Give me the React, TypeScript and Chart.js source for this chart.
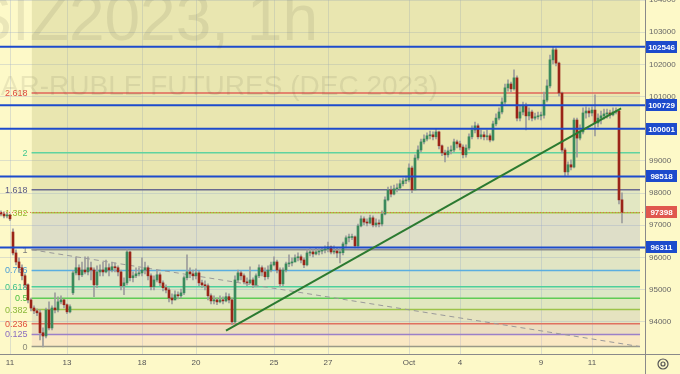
import React, { useEffect, useRef } from "react";
import { Chart, registerables } from "chart.js";

Chart.register(...registerables);

// ---- Candles (hourly, index = candle slot) ----
const opens = [
  97400,97350,97290,97320,96790,96140,95860,95680,95430,95150,
  94680,94430,94340,94280,93660,93560,94370,93810,94430,94370,
  94620,94680,94530,94310,94900,95520,95680,95460,95610,95550,
  95680,95610,95150,95550,95610,95550,95680,95610,95710,95680,
  95550,95120,95210,96170,95370,95430,95490,95520,95610,95680,
  95430,95090,95300,95460,95210,95060,94990,94740,94680,94840,
  94810,94900,95370,95550,95490,95430,95520,95210,95150,95120,
  94810,94650,94680,94620,94680,94650,94780,94680,94000,95300,
  95520,95430,95240,95210,95300,95150,95430,95680,95550,95400,
  95610,95770,95860,95610,95180,95610,95800,95830,95860,95990,
  96020,95920,95770,96140,96170,96110,96170,96200,96230,96260,
  96330,96170,96200,96140,96150,96420,96610,96620,96640,96360,
  96980,97200,97100,97070,97230,97010,97070,97040,97350,97790,
  98100,97970,98130,98160,98290,98380,98410,98780,98100,99090,
  99340,99590,99680,99780,99810,99750,99900,99470,99250,99190,
  99310,99340,99590,99530,99430,99190,99400,99750,99960,100090,
  99750,99810,99750,99780,99650,100150,100330,100520,100830,101270,
  101390,101240,101580,100330,100520,100710,100400,100520,100330,100370,
  100400,100420,100890,101330,102140,102450,102040,101110,99340,98660,
  98880,98810,100270,99710,99900,100490,100550,100490,100580,100180,
  100330,100400,100460,100490,100430,100520,100550,97790,
];
const highs = [
  97450,97420,97380,97350,96890,96240,95990,95770,95490,95180,
  94740,94500,94400,94370,93810,94430,94620,94500,94900,94780,
  94810,94710,94560,94530,95580,96020,95770,95860,96020,96020,
  95860,95680,95740,95770,95860,95920,95800,95860,95830,95740,
  95610,95370,96240,96200,95550,95680,95680,95990,95860,95740,
  95490,95430,95610,95520,95270,95150,95060,94870,94960,94930,
  95020,95430,96080,95680,95610,95650,95580,95300,95270,95180,
  94870,94810,94740,94810,94780,94900,94870,94740,95430,95610,
  95580,95490,95370,95710,95370,95490,95770,95740,95680,95740,
  95860,96020,95920,95680,95680,95860,96080,95990,96080,96140,
  96080,95990,96240,96270,96240,96300,96270,96300,96360,96480,
  96360,96360,96300,96270,96480,96670,96730,96730,96670,97040,
  97290,97260,97200,97320,97290,97200,97170,97450,97880,98190,
  98220,98250,98290,98410,98470,98530,98910,98840,99190,99470,
  99680,99810,99870,99930,99900,99990,99930,99500,99340,99430,
  99470,99680,99650,99620,99500,99500,99840,100090,100210,100150,
  99960,99900,99960,99840,100240,100460,100650,100960,101390,101520,
  101450,101830,101640,100710,100830,100800,100650,100580,100490,100520,
  100520,101140,101520,102290,102550,102510,102070,101140,99400,98970,
  99030,100330,100330,100120,100650,100680,100650,100680,101050,100460,
  100550,100610,100610,100580,100650,100650,100600,98010,
];
const lows = [
  97290,97230,97230,97140,96080,95770,95550,95300,95060,94590,
  94340,94250,94190,93440,93220,93500,93750,93750,94280,94310,
  94560,94430,94250,94280,94840,95460,95300,95400,95490,95460,
  95300,94780,95060,95430,95430,95520,95430,95550,95550,95430,
  94990,94840,95150,95270,95240,95370,95430,95430,95490,95300,
  94990,94990,95240,95120,94960,94900,94620,94560,94680,94710,
  94740,94840,95300,95370,95300,95330,95120,95060,94990,94680,
  94560,94560,94530,94590,94560,94620,94590,93910,93940,95240,
  95300,95180,95120,95180,95060,95090,95370,95430,95300,95330,
  95550,95740,95520,95090,95120,95550,95710,95740,95860,95890,
  95830,95680,95740,96050,96020,96080,96080,96110,96140,96170,
  96110,96110,95990,95830,96080,96300,96480,96550,96300,96300,
  96950,97010,96980,97040,96950,96950,96950,96980,97320,97760,
  97880,97940,98040,98130,98220,98290,98350,98010,98100,99030,
  99280,99530,99620,99680,99650,99680,99370,99160,98970,99120,
  99220,99280,99400,99340,99090,99120,99340,99680,99870,99680,
  99680,99650,99650,99590,99620,100090,100270,100460,100770,101170,
  101140,101200,100240,100240,100430,99960,100270,100240,100270,100300,
  100270,100330,100830,101270,102010,101950,101020,99250,98530,98560,
  98720,98780,99120,99650,99840,100330,100370,100400,99780,100060,
  100150,100300,100330,100330,100400,100460,97660,97070,
];
const closes = [
  97350,97290,97320,97200,96140,95860,95680,95430,95150,94680,
  94430,94340,94280,93660,93560,94370,93810,94430,94370,94620,
  94680,94530,94310,94470,95520,95680,95460,95610,95550,95680,
  95610,95150,95550,95610,95550,95680,95610,95710,95680,95550,
  95120,95210,96170,95370,95430,95490,95520,95610,95680,95430,
  95090,95300,95460,95210,95060,94990,94740,94680,94840,94810,
  94900,95370,95550,95490,95430,95520,95210,95150,95120,94810,
  94650,94680,94620,94680,94650,94780,94680,94000,95300,95520,
  95430,95240,95210,95300,95150,95430,95680,95550,95400,95610,
  95770,95860,95610,95180,95610,95800,95830,95860,95990,96020,
  95920,95770,96140,96170,96110,96170,96200,96230,96260,96330,
  96170,96200,96140,96150,96420,96610,96620,96640,96360,96980,
  97200,97100,97070,97230,97010,97070,97040,97350,97790,98100,
  97970,98130,98160,98290,98380,98410,98780,98100,99090,99340,
  99590,99680,99780,99810,99750,99900,99470,99250,99190,99310,
  99340,99590,99530,99430,99190,99400,99750,99960,100090,99750,
  99810,99750,99780,99650,100150,100330,100520,100830,101270,101390,
  101240,101580,100330,100520,100710,100400,100520,100330,100370,100400,
  100420,100890,101330,102140,102450,102040,101110,99340,98660,98880,
  98810,100270,99710,99900,100490,100550,100490,100580,100180,100330,
  100400,100460,100490,100430,100520,100550,97790,97398,
];

// ---- Axis ticks (candle slot of each day start) ----
const dayTicks = [3, 22, 47, 65, 91, 109, 136, 153, 180, 197];
const dayLabels = ["11", "13", "18", "20", "25", "27", "Oct", "4", "9", "11"];

// ---- Drawings ----
const levelPrices = [102546, 100729, 100001, 98518, 96311];
const lastPrice = 97398;
const fibLevels = [0, 0.125, 0.236, 0.382, 0.5, 0.618, 0.786, 1, 1.382, 1.618, 2, 2.618, 3.618];
const fibLowPrice = 93230;
const fibHighPrice = 96240;
const fibSpan = [10.2, 213];
const trendX = [75, 206.7];
const trendY = [93730, 100630];

// ---- Styles ----
const FONT = '"Liberation Sans", Arial, sans-serif';
const BG = "#fdf9c8";
const GRID = "rgba(160,176,200,0.35)";
const BLUE = "#1d4bcc";
const UP = "#3b8a5c";
const DOWN = "#9a2418";
const WICK = "#9c9c9c";
const X_MIN = -1 / 3;
const X_MAX = 214 + 2 / 3;
const fibLineColors = [
  "#9a9a88", "#9b80c8", "#e0705e", "#9cc34a", "#5fcc55", "#4ccf9c", "#5aaee0",
  "#8c8c8c", "#a5c844", "#6a6a8e", "#5fd3a0", "#e0655a", "#9c27b0",
];
const fibLabelColors = [
  "#8a8a78", "#8a6cc0", "#e0503e", "#8cb83a", "#4cc040", "#3cbf8c", "#4a9ed6",
  "#7c7c7c", "#98be30", "#5a5a86", "#40c890", "#e04a40", "#9c27b0",
];
const fibFillColors = [
  "rgba(0,0,0,0)",
  "rgba(245,185,184,0.25)",
  "rgba(189,145,168,0.25)",
  "rgba(161,165,168,0.25)",
  "rgba(145,181,168,0.25)",
  "rgba(125,181,192,0.25)",
  "rgba(129,173,200,0.25)",
  "rgba(145,173,184,0.25)",
  "rgba(133,145,200,0.25)",
  "rgba(149,181,176,0.25)",
  "rgba(177,177,104,0.25)",
  "rgba(177,177,104,0.25)",
  "rgba(177,177,104,0.25)",
];

const fibPrice = (lv: number) => fibLowPrice + lv * (fibHighPrice - fibLowPrice);

const overlay = {
  id: "overlay",
  beforeDraw(chart: any) {
    const { ctx, width, height } = chart;
    ctx.save();
    ctx.fillStyle = BG;
    ctx.fillRect(0, 0, width, height);
    ctx.restore();
  },
  beforeDatasetsDraw(chart: any) {
    const { ctx, scales, chartArea } = chart;
    const lx = scales.x.getPixelForValue(fibSpan[0]) - 4;
    ctx.save();
    ctx.font = `9px ${FONT}`;
    ctx.textAlign = "right";
    ctx.textBaseline = "middle";
    fibLevels.forEach((lv, k) => {
      const py = scales.y.getPixelForValue(fibPrice(lv));
      if (py < 4 || py > chartArea.bottom) return;
      ctx.fillStyle = fibLabelColors[k];
      ctx.fillText(String(lv), lx, py + 0.5);
    });
    ctx.restore();
  },
  afterDatasetsDraw(chart: any) {
    const { ctx, chartArea } = chart;
    ctx.save();
    ctx.beginPath();
    ctx.rect(chartArea.left, chartArea.top, chartArea.right - chartArea.left, chartArea.bottom - chartArea.top);
    ctx.clip();
    ctx.fillStyle = "rgba(70,70,50,0.10)";
    ctx.textAlign = "right";
    ctx.textBaseline = "alphabetic";
    ctx.font = `64px ${FONT}`;
    ctx.fillText("SIZ2023, 1h", 318, 40);
    ctx.font = `28px ${FONT}`;
    ctx.fillText("US DOLLAR-RUBLE FUTURES (DEC 2023)", 438, 95);
    ctx.restore();
  },
  afterDraw(chart: any) {
    const { ctx, chartArea, scales, width, height } = chart;
    ctx.save();
    ctx.strokeStyle = "#8a8a8a";
    ctx.lineWidth = 1;
    ctx.beginPath();
    ctx.moveTo(chartArea.right + 0.5, 0);
    ctx.lineTo(chartArea.right + 0.5, height);
    ctx.moveTo(0, chartArea.bottom + 0.5);
    ctx.lineTo(width, chartArea.bottom + 0.5);
    ctx.stroke();

    const box = (price: number, color: string) => {
      const py = scales.y.getPixelForValue(price);
      ctx.fillStyle = color;
      ctx.fillRect(chartArea.right + 1, Math.round(py) - 6, 31, 12);
      ctx.fillStyle = "#ffffff";
      ctx.font = `bold 8px ${FONT}`;
      ctx.textAlign = "center";
      ctx.textBaseline = "middle";
      ctx.fillText(String(price), chartArea.right + 16.5, Math.round(py) + 0.5);
    };
    levelPrices.forEach((p) => box(p, BLUE));
    box(lastPrice, "#e0584e");

    // settings icon
    const cx = chartArea.right + 18;
    const cy = chartArea.bottom + 10;
    ctx.strokeStyle = "#555";
    ctx.lineWidth = 1.2;
    ctx.beginPath();
    ctx.arc(cx, cy, 5, 0, Math.PI * 2);
    ctx.stroke();
    ctx.beginPath();
    ctx.arc(cx, cy, 2, 0, Math.PI * 2);
    ctx.stroke();
    ctx.restore();
  },
};

export default function App() {
  const ref = useRef<HTMLCanvasElement | null>(null);
  useEffect(() => {
    document.body.style.margin = "0";
    const canvas = ref.current;
    if (!canvas) return;

    const fibSets = fibLevels.map((lv, k) => ({
      type: "line" as const,
      data: [
        { x: fibSpan[0], y: fibPrice(lv) },
        { x: fibSpan[1], y: fibPrice(lv) },
      ],
      borderColor: fibLineColors[k],
      borderWidth: 1.5,
      backgroundColor: fibFillColors[k],
      fill: k === 0 ? false : "-1",
      pointRadius: 0,
      order: 10,
    }));

    const blueSets = levelPrices.map((p) => ({
      type: "line" as const,
      data: [
        { x: X_MIN, y: p },
        { x: X_MAX, y: p },
      ],
      borderColor: BLUE,
      borderWidth: 2,
      pointRadius: 0,
      fill: false,
      order: 1,
    }));

    const chart = new Chart(canvas, {
      type: "bar",
      data: {
        datasets: [
          ...fibSets,
          {
            type: "line",
            data: [
              { x: fibSpan[0], y: fibHighPrice },
              { x: fibSpan[1], y: fibLowPrice },
            ],
            borderColor: "#9a9a9a",
            borderWidth: 1,
            borderDash: [5, 4],
            pointRadius: 0,
            fill: false,
            order: 6,
          },
          ...blueSets,
          {
            type: "line",
            data: [
              { x: X_MIN, y: lastPrice },
              { x: X_MAX, y: lastPrice },
            ],
            borderColor: "rgba(226,90,80,0.85)",
            borderWidth: 1,
            borderDash: [1, 2],
            pointRadius: 0,
            fill: false,
            order: 2,
          },
          {
            type: "bar",
            data: opens.map((o, i) => ({ x: i, y: [o, closes[i]] })),
            backgroundColor: (c: any) =>
              closes[c.dataIndex] >= opens[c.dataIndex] ? UP : DOWN,
            barThickness: 2,
            maxBarThickness: 2,
            minBarLength: 1,
            grouped: false,
            borderWidth: 0,
            order: 3,
          },
          {
            type: "bar",
            data: highs.map((h, i) => ({ x: i, y: [lows[i], h] })),
            backgroundColor: WICK,
            barThickness: 1,
            maxBarThickness: 1,
            grouped: false,
            borderWidth: 0,
            order: 4,
          },
          {
            type: "line",
            data: trendX.map((x, i) => ({ x, y: trendY[i] })),
            borderColor: "#2b7a30",
            borderWidth: 2,
            pointRadius: 0,
            fill: false,
            order: 0,
          },
        ] as any,
      },
      options: {
        responsive: false,
        animation: false,
        devicePixelRatio: 1,
        events: [],
        layout: { padding: 0 },
        plugins: {
          legend: { display: false },
          tooltip: { enabled: false },
        },
        scales: {
          x: {
            type: "linear",
            min: X_MIN,
            max: X_MAX,
            offset: false,
            afterBuildTicks: (s: any) => {
              s.ticks = dayTicks.map((v) => ({ value: v }));
            },
            afterFit: (s: any) => {
              s.height = 20;
              s.paddingLeft = 0;
              s.paddingRight = 0;
            },
            grid: { color: GRID, drawTicks: false, offset: false },
            border: { display: false },
            ticks: {
              callback: (_v: any, i: number) => dayLabels[i] ?? "",
              autoSkip: false,
              maxRotation: 0,
              padding: 4,
              color: "#555",
              font: { size: 8, family: FONT },
            },
          },
          y: {
            type: "linear",
            position: "right",
            min: 93000,
            max: 104000,
            afterFit: (s: any) => {
              s.width = 35;
              s.paddingTop = 0;
              s.paddingBottom = 0;
            },
            grid: { color: GRID, drawTicks: false },
            border: { display: false },
            ticks: {
              stepSize: 1000,
              callback: (v: any) => (v <= 93000 ? "" : String(v)),
              padding: 4,
              color: "#666",
              font: { size: 8, family: FONT },
            },
          },
        },
      } as any,
      plugins: [overlay],
    });
    return () => chart.destroy();
  }, []);

  return (
    <div style={{ width: 680, height: 374 }}>
      <canvas ref={ref} width={680} height={374} style={{ display: "block" }} />
    </div>
  );
}
